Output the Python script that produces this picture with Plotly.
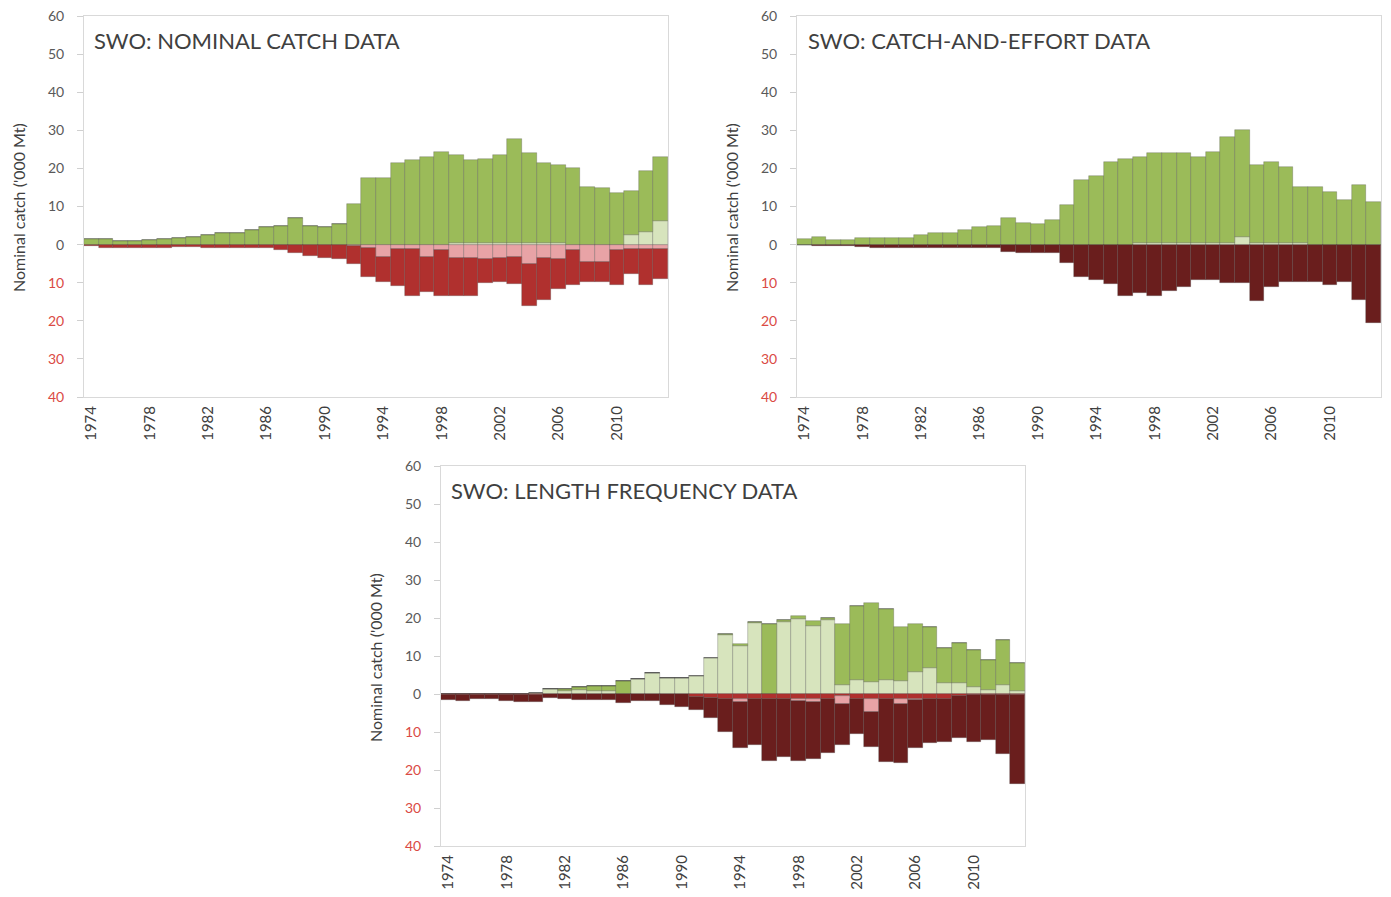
import plotly.graph_objects as go

years = list(range(1974, 2014))

# --- Panel 1: nominal catch data ('000 t) ---
nc_total_pos = [1.5, 1.5, 1.0, 0.9, 1.2, 1.5, 1.7, 1.9, 2.4, 3.0,
                3.0, 3.8, 4.5, 5.0, 7.0, 5.0, 4.7, 5.4, 10.7, 17.5,
                17.5, 21.3, 22.2, 23.0, 24.4, 23.4, 22.3, 22.5, 23.5, 27.7,
                24.0, 21.3, 21.0, 20.0, 15.1, 14.8, 13.6, 14.2, 19.4, 23.0]
nc_light = [0, 0, 0, 0, 0, 0, 0, 0, 0, 0,
            0, 0, 0, 0, 0, 0, 0, 0, 0, 0,
            0, 0, 0, 0, 0, 0.5, 0.5, 0.5, 0.5, 0.5,
            0.5, 0.5, 0.5, 0, 0, 0, 0, 2.4, 3.2, 6.3]
nc_total_neg = [0.3, 1.0, 0.9, 1.0, 1.0, 1.0, 0.7, 0.7, 1.0, 0.8,
                0.8, 0.8, 1.0, 1.4, 2.3, 3.0, 3.6, 3.7, 5.1, 8.6,
                9.9, 10.8, 13.6, 12.5, 13.4, 13.4, 13.4, 10.2, 9.8, 10.4,
                16.0, 14.5, 11.6, 10.5, 9.8, 9.8, 10.7, 7.6, 10.7, 9.0]
nc_pink = [0, 0, 0, 0, 0, 0, 0, 0, 0, 0,
           0, 0, 0, 0, 0, 0, 0, 0, 0.3, 1.0,
           3.3, 1.2, 1.2, 3.3, 1.5, 3.5, 3.5, 3.7, 3.5, 3.3,
           5.1, 3.5, 3.7, 1.3, 4.5, 4.5, 1.3, 1.2, 1.2, 1.2]

# --- Panel 2: catch-and-effort data ---
ce_total_pos = [1.5, 1.9, 1.2, 1.2, 1.7, 1.7, 1.7, 1.7, 2.4, 3.0,
                3.0, 3.8, 4.5, 5.0, 7.0, 5.6, 5.4, 6.4, 10.5, 17.0,
                18.1, 21.8, 22.5, 22.9, 24.0, 24.0, 24.0, 23.1, 24.4, 28.2,
                30.1, 20.9, 21.6, 20.3, 15.0, 15.0, 13.7, 11.8, 15.7, 11.3]
ce_light = [0, 0, 0, 0, 0, 0, 0, 0, 0, 0,
            0, 0, 0, 0, 0, 0, 0, 0, 0, 0,
            0, 0, 0, 0.4, 0.4, 0.4, 0.4, 0.4, 0.4, 0.5,
            1.9, 0.4, 0.4, 0.4, 0.4, 0, 0, 0, 0, 0]
ce_maroon = [0.2, 0.3, 0.3, 0.3, 0.5, 0.8, 0.8, 0.8, 1.0, 0.8,
             0.8, 0.8, 0.9, 1.0, 1.9, 2.2, 2.3, 2.3, 4.9, 8.6,
             9.4, 10.3, 13.4, 12.8, 13.6, 12.1, 11.2, 9.4, 9.4, 10.1,
             10.1, 14.7, 11.2, 9.9, 9.9, 9.7, 10.7, 9.8, 14.6, 20.6]

# --- Panel 3: length frequency data ---
lf_total_pos = [0, 0, 0, 0, 0, 0, 0.2, 1.2, 1.4, 1.8,
                2.0, 2.0, 3.3, 4.0, 5.5, 4.2, 4.3, 4.8, 9.4, 15.8,
                13.1, 19.0, 18.3, 19.5, 20.5, 19.1, 20.0, 18.3, 23.1, 23.9,
                22.4, 17.6, 18.3, 17.7, 12.2, 13.5, 11.6, 9.0, 14.2, 8.1]
lf_light = [0, 0, 0, 0, 0, 0, 0.2, 1.2, 0.8, 1.0,
            0.8, 0.8, 0, 4.0, 5.5, 4.2, 4.3, 4.8, 9.4, 15.4,
            12.7, 18.6, 0, 19.0, 19.8, 17.8, 19.5, 2.4, 3.7, 3.2,
            3.7, 3.5, 5.9, 6.8, 2.8, 2.8, 1.9, 1.0, 2.5, 0.8]
lf_red = [0.3, 0.3, 0.3, 0.3, 0.3, 0.3, 0.3, 0, 0, 0,
          0, 0, 0, 0, 0, 0, 0, 0.8, 1.0, 1.2,
          1.2, 1.2, 1.2, 1.2, 1.2, 1.2, 1.2, 0.6, 1.2, 1.2,
          1.2, 1.2, 1.2, 1.2, 1.2, 0.5, 0.3, 0.3, 0.3, 0.3]
lf_pink = [0, 0, 0, 0, 0, 0, 0, 0, 0, 0,
           0, 0, 0, 0, 0, 0, 0, 0, 0, 0,
           1.0, 0, 0, 0, 0.6, 0.8, 0, 2.0, 0, 3.5,
           0, 1.5, 0.5, 0, 0, 0, 0, 0, 0, 0]
lf_total_neg = [1.5, 1.8, 1.3, 1.3, 1.8, 2.2, 2.2, 1.0, 1.2, 1.5,
                1.5, 1.5, 2.3, 1.8, 1.8, 2.8, 3.3, 4.2, 6.4, 9.9,
                14.1, 13.4, 17.6, 16.5, 17.6, 17.1, 15.4, 13.4, 10.6, 13.9,
                17.8, 18.2, 14.3, 13.0, 12.7, 11.7, 12.7, 12.1, 15.9, 23.8]

titles = ["SWO: NOMINAL CATCH DATA", "SWO: CATCH-AND-EFFORT DATA",
          "SWO: LENGTH FREQUENCY DATA"]

GREEN = "#9BBB59"
LIGHT_GREEN = "#D7E4BD"
PINK = "#E8A3A6"
RED = "#B0302E"
MAROON = "#6A1E1D"
OUTLINE = dict(color="rgba(60,60,60,0.45)", width=0.6)
FONT = "Lato, Open Sans, sans-serif"


def minus(a, b):
    return [round(x - y, 2) for x, y in zip(a, b)]


def neg(a):
    return [-v for v in a]


panels = [
    # (positive stack bottom->top, negative stack zero->down)
    ([(nc_light, LIGHT_GREEN), (minus(nc_total_pos, nc_light), GREEN)],
     [(nc_pink, PINK), (minus(nc_total_neg, nc_pink), RED)]),
    ([(ce_light, LIGHT_GREEN), (minus(ce_total_pos, ce_light), GREEN)],
     [(ce_maroon, MAROON)]),
    ([(lf_light, LIGHT_GREEN), (minus(lf_total_pos, lf_light), GREEN)],
     [(lf_red, RED), (lf_pink, PINK),
      (minus(minus(lf_total_neg, lf_red), lf_pink), MAROON)]),
]

# page has an 8px body margin, so the figure is a bit smaller than the window
OFF = 8
W, H = 1375, 881
# plot boxes in window pixels (left, right, top, bottom)
boxes = [(84, 668, 16, 397), (797, 1381, 16, 397), (441, 1025, 466, 846)]
# y-axis title centres in window pixels
ytitle_pos = [(18, 208), (731, 208), (375, 658)]
# panel title left/centre in window pixels
title_pos = [(92, 40), (806, 40), (449, 490)]


def px(x):
    return (x - OFF) / W


def py(y):
    return 1 - (y - OFF) / H


fig = go.Figure()
for k, (pos, negs) in enumerate(panels):
    ax = "" if k == 0 else str(k + 1)
    for vals, col in pos:
        fig.add_trace(go.Bar(x=years, y=vals, marker=dict(color=col, line=OUTLINE),
                             xaxis="x" + ax, yaxis="y" + ax, showlegend=False))
    for vals, col in negs:
        fig.add_trace(go.Bar(x=years, y=neg(vals), marker=dict(color=col, line=OUTLINE),
                             xaxis="x" + ax, yaxis="y" + ax, showlegend=False))

yt = list(range(-40, 61, 10))
ytext = [f'<span style="color:#DA4A44">{abs(v)}</span>' if v < 0 else str(v) for v in yt]

layout = dict(
    width=W, height=H, margin=dict(l=0, r=0, t=0, b=0, autoexpand=False),
    barmode="relative", bargap=0,
    paper_bgcolor="white", plot_bgcolor="white",
    font=dict(family=FONT, color="#595959"),
)
for k, (l, r, t, b) in enumerate(boxes):
    ax = "" if k == 0 else str(k + 1)
    layout["xaxis" + ax] = dict(
        domain=[px(l), px(r)], anchor="y" + ax, automargin=False,
        range=[1973.5, 2013.5], tickvals=years[::4], tickangle=-90,
        tickfont=dict(size=15, color="#404040"),
        showline=True, linecolor="#D9D9D9", linewidth=1, mirror=True,
        showgrid=False, zeroline=False, ticks="", ticklabelstandoff=2,
        ticklabeloverflow="allow",
    )
    layout["yaxis" + ax] = dict(
        domain=[py(b), py(t)], anchor="x" + ax, automargin=False,
        range=[-40, 60], tickvals=yt, ticktext=ytext,
        tickfont=dict(size=14, color="#595959"),
        showline=True, linecolor="#D9D9D9", linewidth=1, mirror=True,
        ticks="outside", ticklen=6, tickcolor="#D0D0D0", ticklabelstandoff=10,
        ticklabeloverflow="allow",
        showgrid=False, zeroline=False,
    )
fig.update_layout(**layout)

for k, title in enumerate(titles):
    fig.add_annotation(
        text=title, xref="paper", yref="paper",
        x=px(title_pos[k][0]), y=py(title_pos[k][1]),
        xanchor="left", yanchor="middle", showarrow=False,
        font=dict(size=22, color="#404040", family=FONT),
    )
    fig.add_annotation(
        text="Nominal catch ('000 Mt)", xref="paper", yref="paper",
        x=px(ytitle_pos[k][0]), y=py(ytitle_pos[k][1]), textangle=-90,
        xanchor="center", yanchor="middle", showarrow=False,
        font=dict(size=16, color="#404040", family=FONT),
    )

fig.write_html("out.html")
